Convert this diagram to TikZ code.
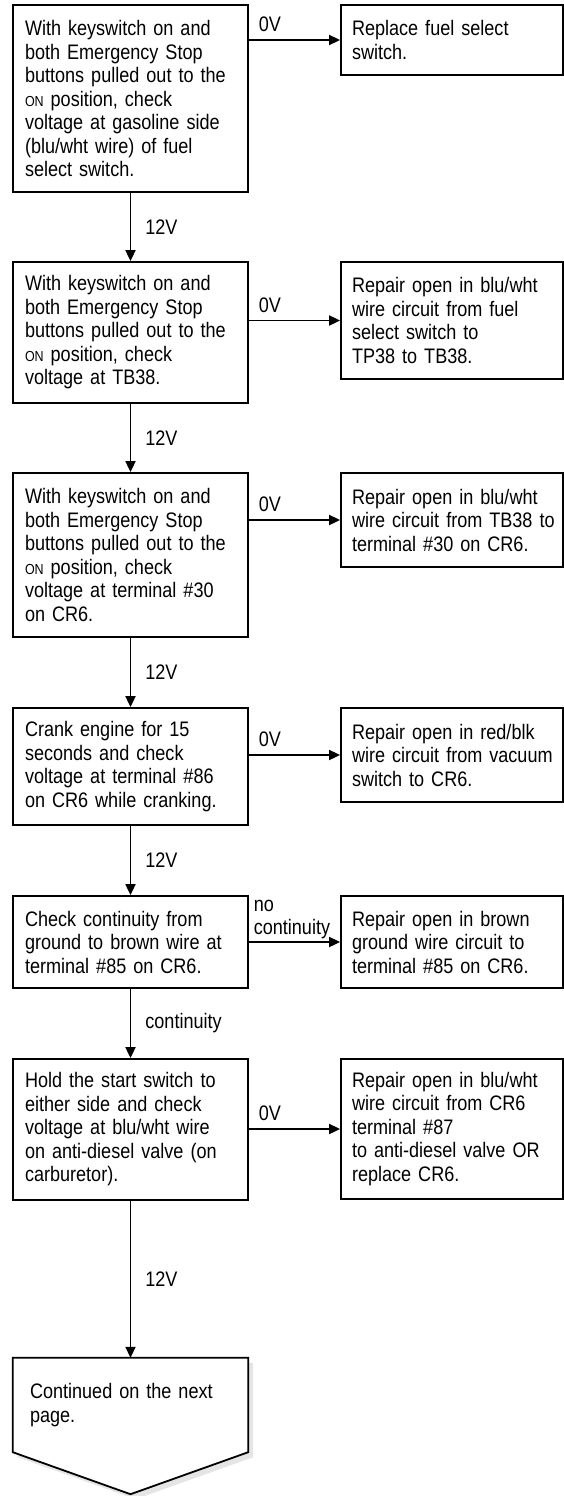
\documentclass[tikz,border=0pt]{standalone}
\usepackage{fontspec}
\setmainfont{Liberation Sans}[FakeStretch=0.86]
\usetikzlibrary{arrows.meta, positioning, calc, backgrounds}

% small caps style ON
\newcommand{\onsc}{{\fontsize{14.5}{14.5}\selectfont ON}}

\begin{document}
\begin{tikzpicture}[x=1pt, y=-1pt,
  every node/.style={font=\fontsize{21}{23.5}\selectfont},
  lbox/.style={draw, line width=1.8pt, text width=211pt, inner xsep=12pt, align=left, minimum height=#1},
  rbox/.style={draw, line width=1.8pt, text width=200pt, inner xsep=11pt, align=left, minimum height=#1},
  flow/.style={line width=1.8pt, -{Triangle[length=11pt,width=10pt]}},
  lbl/.style={inner sep=0pt}]
  \useasboundingbox (0,0) rectangle (564,1496);

  % Checks (left column)
  \node[lbox=187pt] (chk1) at (130.5,98.5) {With keyswitch on and\\both Emergency Stop\\buttons pulled out to the\\\onsc{} position, check\\voltage at gasoline side\\(blu/wht wire) of fuel\\select switch.};
  \node[lbox=141pt] (chk2) at (130.5,332.5) {With keyswitch on and\\both Emergency Stop\\buttons pulled out to the\\\onsc{} position, check\\voltage at TB38.};
  \node[lbox=164pt] (chk3) at (130.5,555) {With keyswitch on and\\both Emergency Stop\\buttons pulled out to the\\\onsc{} position, check\\voltage at terminal \#30\\on CR6.};
  \node[lbox=117pt] (chk4) at (130.5,766.5) {Crank engine for 15\\seconds and check\\voltage at terminal \#86\\on CR6 while cranking.};
  \node[lbox=92pt] (chk5) at (130.5,942) {Check continuity from\\ground to brown wire at\\terminal \#85 on CR6.};
  \node[lbox=141pt] (chk6) at (130.5,1129.5) {Hold the start switch to\\either side and check\\voltage at blu/wht wire\\on anti-diesel valve (on\\carburetor).};

  % Repairs (right column)
  \node[rbox=70pt] (fix1) at (452,40) {Replace fuel select\\switch.};
  \node[rbox=117pt] (fix2) at (452,320.5) {Repair open in blu/wht\\wire circuit from fuel\\select switch to\\TP38 to TB38.};
  \node[rbox=94pt] (fix3) at (452,520) {Repair open in blu/wht\\\mbox{wire circuit from TB38 to}\\terminal \#30 on CR6.};
  \node[rbox=94pt] (fix4) at (452,755) {Repair open in red/blk\\\mbox{wire circuit from vacuum}\\switch to CR6.};
  \node[rbox=92pt] (fix5) at (452,942) {Repair open in brown\\ground wire circuit to\\terminal \#85 on CR6.};
  \node[rbox=140pt] (fix6) at (452,1129) {Repair open in blu/wht\\wire circuit from CR6\\terminal \#87\\\mbox{to anti-diesel valve OR}\\replace CR6.};

  % Off-page connector
  \node[minimum width=235pt, minimum height=94pt, inner xsep=17pt, text width=201pt, align=left] (cont) at (130.5,1405) {Continued on the next\\page.};
  \begin{pgfonlayer}{background}
    \fill[black!10] ($(cont.north west)+(5,5)$) -- ($(cont.north east)+(5,5)$) -- ($(cont.south east)+(5,5)$) -- ($(cont.south)+(5,47)$) -- ($(cont.south west)+(5,5)$) -- cycle;
    \draw[line width=1.8pt, fill=white] (cont.north west) -- (cont.north east) -- (cont.south east) -- ($(cont.south)+(0,42)$) -- (cont.south west) -- cycle;
  \end{pgfonlayer}

  % Down the column
  \draw[flow] (chk1) -- node[midway, right=14pt, lbl] {12V} (chk2);
  \draw[flow] (chk2) -- node[midway, right=14pt, lbl] {12V} (chk3);
  \draw[flow] (chk3) -- node[midway, right=14pt, lbl] {12V} (chk4);
  \draw[flow] (chk4) -- node[midway, right=14pt, lbl] {12V} (chk5);
  \draw[flow] (chk5) -- node[midway, right=14pt, lbl] {continuity} (chk6);
  \draw[flow] (chk6) -- node[midway, right=14pt, lbl] {12V} (cont);

  % Across to the repairs
  \draw[flow] (chk1.east |- fix1.west) -- node[pos=0, anchor=south west, lbl, xshift=9pt, yshift=7pt] {0V} (fix1);
  \draw[flow] (chk2.east |- fix2.west) -- node[pos=0, anchor=south west, lbl, xshift=9pt, yshift=7pt] {0V} (fix2);
  \draw[flow] (chk3.east |- fix3.west) -- node[pos=0, anchor=south west, lbl, xshift=9pt, yshift=7pt] {0V} (fix3);
  \draw[flow] (chk4.east |- fix4.west) -- node[pos=0, anchor=south west, lbl, xshift=9pt, yshift=7pt] {0V} (fix4);
  \draw[flow] (chk5.east |- fix5.west) -- node[pos=0, anchor=south west, lbl, align=left, xshift=4pt, yshift=2pt] {no\\continuity} (fix5);
  \draw[flow] (chk6.east |- fix6.west) -- node[pos=0, anchor=south west, lbl, xshift=9pt, yshift=7pt] {0V} (fix6);
\end{tikzpicture}
\end{document}
